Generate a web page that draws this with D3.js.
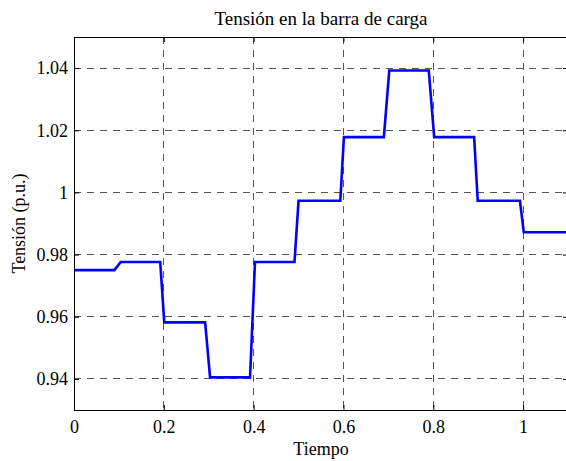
<!DOCTYPE html>
<html>
<head>
<meta charset="utf-8">
<script src="https://cdn.jsdelivr.net/npm/d3@7"></script>
<style>
    body { margin: 0; background: #fff; }
</style>
</head>
<body>
<div class="chart"></div>
<script>

// tiempo / tension
const tiempo = [0, 0.09, 0.104, 0.192, 0.201, 0.292, 0.303, 0.392, 0.403, 0.491, 0.5,
    0.593, 0.601, 0.69, 0.702, 0.79, 0.802, 0.891, 0.899, 0.993, 1.0015, 1.1]
const tension = [0.975, 0.975, 0.9776, 0.9776, 0.9582, 0.9582, 0.9405, 0.9405, 0.9776, 0.9776, 0.9973,
    0.9973, 1.0178, 1.0178, 1.0392, 1.0392, 1.0178, 1.0178, 0.9973, 0.9973, 0.9872, 0.9872]

const xTicks = [0, 0.2, 0.4, 0.6, 0.8, 1]
const yTicks = [0.94, 0.96, 0.98, 1, 1.02, 1.04]
const xDomain = [0, 1.1]
const yDomain = [0.93, 1.05]

const titulo = 'Tensión en la barra de carga'
const xLabel = 'Tiempo'
const yLabel = 'Tensión (p.u.)'

const W = 566, H = 461
const mLeft = 74, mRight = 568, mTop = 37, mBottom = 410
const FONT = '"Liberation Serif", "Times New Roman", serif'

let svg = d3.select('.chart')
    .append('svg')
    .attr('width', W)
    .attr('height', H)
    .attr('font-family', FONT)

let x = d3.scaleLinear().domain(xDomain).range([mLeft, mRight])
let y = d3.scaleLinear().domain(yDomain).range([mBottom, mTop])

const fmt = d => `${+d.toFixed(2)}`

// dashed grid
let grid = svg.append('g').attr('class', 'grid')
grid.selectAll('line.gx')
    .data(xTicks.filter(d => d > 0))
    .join('line')
    .attr('class', 'gx')
    .attr('x1', d => x(d)).attr('x2', d => x(d))
    .attr('y1', mTop).attr('y2', mBottom)
grid.selectAll('line.gy')
    .data(yTicks)
    .join('line')
    .attr('class', 'gy')
    .attr('x1', mLeft).attr('x2', mRight)
    .attr('y1', d => y(d)).attr('y2', d => y(d))
grid.selectAll('line')
    .attr('stroke', '#555')
    .attr('stroke-width', 1)
    .attr('stroke-dasharray', '7,6')
    .attr('shape-rendering', 'crispEdges')

// the curve
let line = d3.line()
    .x((d, i) => x(tiempo[i]))
    .y(d => y(d))

svg.append('path')
    .datum(tension)
    .attr('d', line)
    .attr('fill', 'none')
    .attr('stroke', '#0000ff')
    .attr('stroke-width', 2.6)
    .attr('stroke-linejoin', 'miter')

// axes, ticks pointing inward like matlab
function styleAxis(g) {
    g.attr('font-family', FONT).attr('font-size', 18)
    g.select('.domain').attr('stroke', '#000').attr('stroke-width', 1.3)
    g.selectAll('.tick line').attr('stroke', '#000')
    g.selectAll('text').attr('fill', '#000')
}

svg.append('g')
    .attr('transform', `translate(0,${mBottom})`)
    .call(d3.axisBottom(x).tickValues(xTicks).tickFormat(fmt).tickSizeInner(-5).tickSizeOuter(0).tickPadding(10))
    .call(styleAxis)

svg.append('g')
    .attr('transform', `translate(0,${mTop})`)
    .call(d3.axisTop(x).tickValues(xTicks).tickFormat('').tickSizeInner(-5).tickSizeOuter(0))
    .call(styleAxis)

svg.append('g')
    .attr('transform', `translate(${mLeft},0)`)
    .call(d3.axisLeft(y).tickValues(yTicks).tickFormat(fmt).tickSizeInner(-5).tickSizeOuter(0).tickPadding(6))
    .call(styleAxis)

svg.append('g')
    .attr('transform', `translate(${mRight},0)`)
    .call(d3.axisRight(y).tickValues(yTicks).tickFormat('').tickSizeInner(-5).tickSizeOuter(0))
    .call(styleAxis)

svg.selectAll('.domain').attr('shape-rendering', 'crispEdges')

// title and labels
svg.append('text')
    .attr('x', (mLeft + mRight) / 2)
    .attr('y', 25)
    .attr('text-anchor', 'middle')
    .attr('font-size', 19)
    .text(titulo)

svg.append('text')
    .attr('x', (mLeft + mRight) / 2)
    .attr('y', 455)
    .attr('text-anchor', 'middle')
    .attr('font-size', 18)
    .text(xLabel)

svg.append('text')
    .attr('transform', `translate(25,${(mTop + mBottom) / 2}) rotate(-90)`)
    .attr('text-anchor', 'middle')
    .attr('font-size', 18)
    .text(yLabel)

</script>
</body>
</html>
